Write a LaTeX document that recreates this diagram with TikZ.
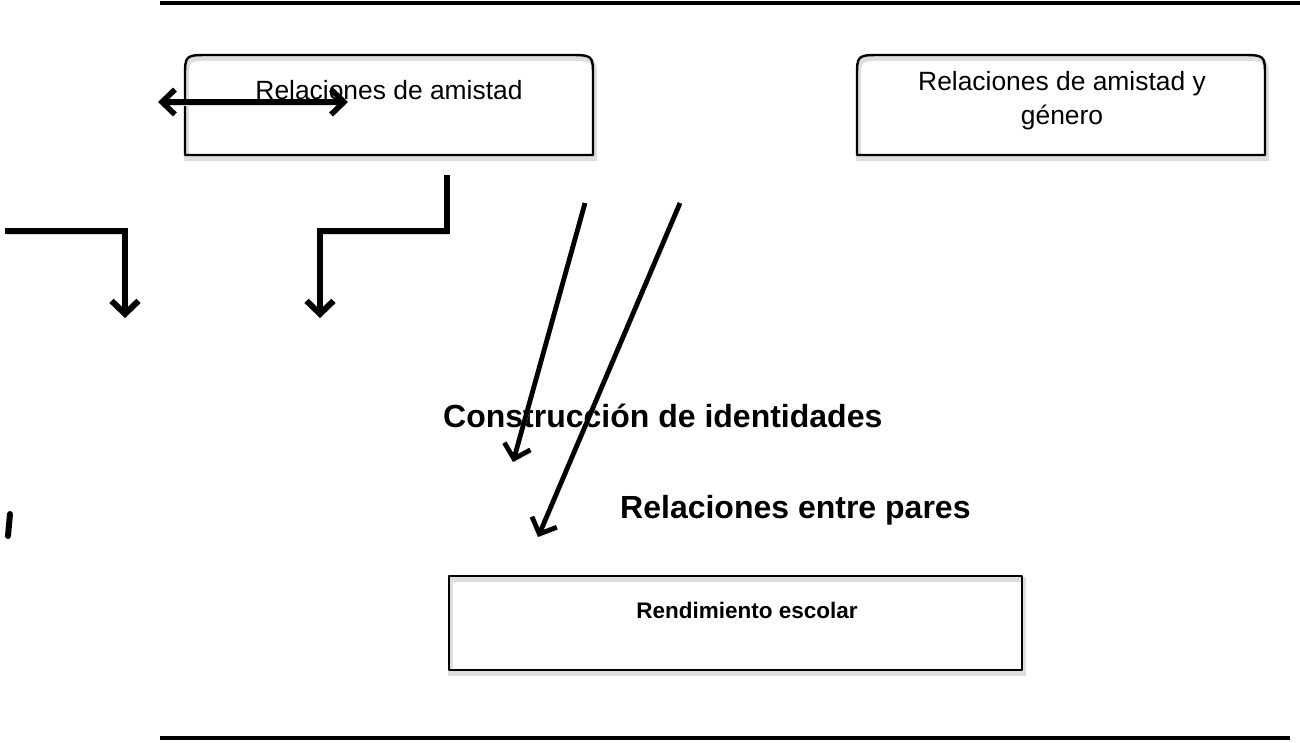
\documentclass[tikz,border=0pt]{standalone}
\usepackage{fontspec}
\setmainfont{Liberation Sans}
\usetikzlibrary{arrows.meta}
\begin{document}
\begin{tikzpicture}[x=1pt,y=-1pt,
  boxline/.style={line width=2.4pt, line join=round, preaction={draw=black!13, line width=5pt, transform canvas={xshift=1.5pt,yshift=-3.5pt}}},
  rule/.style={line width=3.5pt},
  barb/.style={line width=6pt, line join=miter, preaction={draw=black!14, transform canvas={xshift=1.5pt,yshift=-3pt}}, -{Straight Barb[length=13pt,width=27pt]}},
  dbarb/.style={line width=5.5pt, preaction={draw=black!14, transform canvas={xshift=1.5pt,yshift=-3pt}}, {Straight Barb[length=13pt,width=25pt]}-{Straight Barb[length=13pt,width=25pt]}},
  diag/.style={line width=4.8pt, preaction={draw=black!14, transform canvas={xshift=1.5pt,yshift=-3pt}}, -{Straight Barb[length=13pt,width=27pt]}},
  boxtext/.style={font=\fontsize{26.4}{32}\selectfont, anchor=base, inner sep=0pt},
  bigtext/.style={font=\bfseries\fontsize{32}{38}\selectfont, anchor=base west, inner sep=0pt},
  midtext/.style={font=\bfseries\fontsize{22.5}{27}\selectfont, anchor=base, inner sep=0pt}
]
\useasboundingbox (0,0) rectangle (1300,742);

% horizontal rules
\coordinate (r1a) at (160,3);  \coordinate (r1b) at (1300,3);
\coordinate (r2a) at (160,738); \coordinate (r2b) at (1290,738);
\draw[rule] (r1a) -- (r1b);
\draw[rule] (r2a) -- (r2b);

% box 1
\draw[boxline] (185,155) -- (185,77) .. controls (185,55) .. (210,55) -- (568,55) .. controls (593,55) .. (593,77) -- (593,155) -- cycle;
\node[boxtext] (t1) at (389,99) {Relaciones de amistad};

% box 2
\draw[boxline] (857,155) -- (857,77) .. controls (857,55) .. (882,55) -- (1240,55) .. controls (1265,55) .. (1265,77) -- (1265,155) -- cycle;
\node[boxtext] (t2a) at (1062,90) {Relaciones de amistad y};
\node[boxtext] (t2b) at (1062,124) {género};

% box 3
\draw[boxline] (449,576) rectangle (1022,670);
\node[midtext] (t3) at (747,618) {Rendimiento escolar};

% floating labels
\node[bigtext] (t4) at (443,427) {Construcción de identidades};
\node[bigtext] (t5) at (620,518) {Relaciones entre pares};

% double arrow
\coordinate (d1) at (158,102); \coordinate (d2) at (348,102);
\draw[dbarb] (d1) -- (d2);

% elbow arrows
\coordinate (e1s) at (5,231); \coordinate (e1e) at (125,318);
\draw[barb] (e1s) -| (e1e);
\coordinate (e2s) at (447,175); \coordinate (e2m) at (320,231); \coordinate (e2e) at (320,318);
\draw[barb] (e2s) |- (e2m) -- (e2e);

% diagonal arrows
\coordinate (g1s) at (585,203); \coordinate (g1e) at (513,462);
\coordinate (g2s) at (680,203); \coordinate (g2e) at (538,537);
\draw[diag] (g1s) -- (g1e);
\draw[diag] (g2s) -- (g2e);

% small stub at left
\coordinate (s1) at (10,514); \coordinate (s2) at (8,536);
\draw[line width=6pt, line cap=round] (s1) -- (s2);
\end{tikzpicture}
\end{document}
